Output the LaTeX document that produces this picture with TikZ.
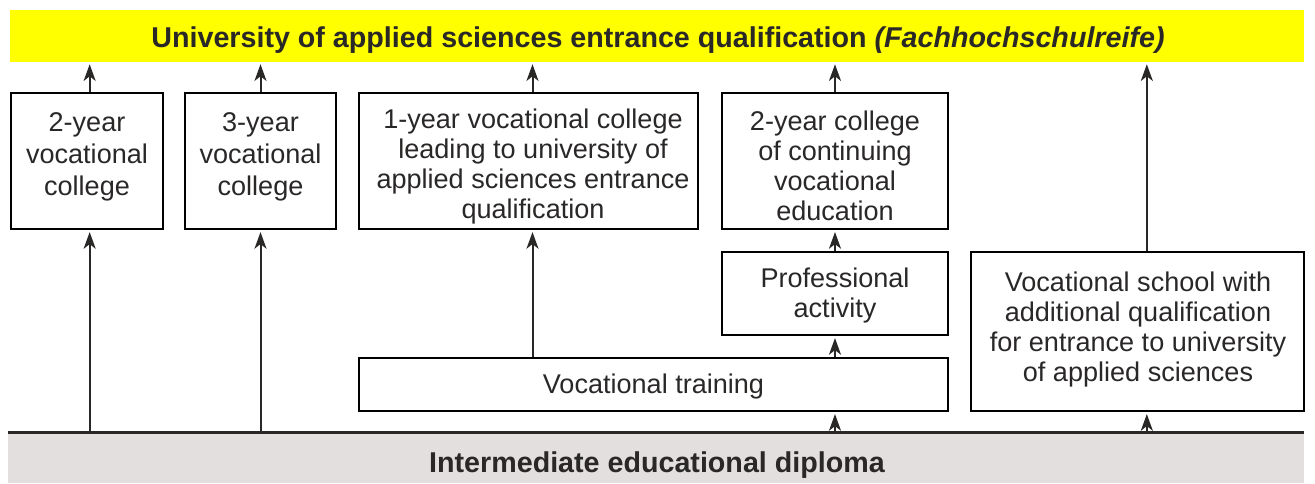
\documentclass[tikz,border=0pt]{standalone}
\usepackage{fontspec}
\setmainfont{Liberation Sans}
\usetikzlibrary{arrows.meta}
\definecolor{ink}{HTML}{2A2727}
\definecolor{barY}{HTML}{FFFF00}
\definecolor{barG}{HTML}{E3DFDF}
\tikzset{
  box/.style={draw=black, line width=1.6pt, inner sep=0pt},
  lbl/.style={align=center, text=ink, font=\fontsize{20.3}{22.5}\selectfont, inner sep=0pt},
  widelbl/.style={lbl, font=\fontsize{20.3}{24}\selectfont},
  arr/.style={draw=ink, line width=1.5pt, shorten >=1.5pt,
    -{Stealth[length=12.5pt,width=9pt,inset=3.5pt]}},
  band/.style={inner sep=0pt, text=ink, font=\fontsize{21.5}{24}\selectfont\bfseries},
}
\begin{document}
\begin{tikzpicture}[x=0.75pt,y=-0.75pt]
\useasboundingbox (0,0) rectangle (1315,483);
% target and starting bands
\node[band, fill=barY, minimum width=970.5pt, minimum height=39pt] (top) at (657,36) {};
\node[band] (toptext) at (658,40)
  {University of applied sciences entrance qualification \textit{(Fachhochschulreife)}};
\node[band, fill=barG, minimum width=972pt, minimum height=37.5pt] (dip) at (656,458) {};
\node[band] (diptext) at (657,465) {Intermediate educational diploma};
\draw[ink, line width=2pt] (dip.north west) -- (dip.north east);
% school boxes
\node[box, minimum width=114pt, minimum height=102pt] (a) at (87,161) {};
\node[widelbl] (alabel) at (87,157) {2-year\\vocational\\college};
\node[box, minimum width=113.25pt, minimum height=102pt] (b) at (260.5,161) {};
\node[widelbl] (blabel) at (260.5,157) {3-year\\vocational\\college};
\node[box, minimum width=254.25pt, minimum height=102pt] (c) at (528.5,161) {};
\node[lbl] (clabel) at (533,166)
  {1-year vocational college\\leading to university of\\applied sciences entrance\\qualification};
\node[box, minimum width=169.5pt, minimum height=102pt] (d) at (835,161) {};
\node[lbl] (dlabel) at (835,166) {2-year college\\of continuing\\vocational\\education};
\node[box, minimum width=169.5pt, minimum height=62.25pt] (e) at (835,293.5) {};
\node[lbl] (elabel) at (835,295) {Professional\\activity};
\node[box, minimum width=441.75pt, minimum height=39.75pt] (f) at (653.5,384.5) {};
\node[lbl] (flabel) at (653.5,386) {Vocational training};
\node[box, minimum width=249.75pt, minimum height=119.25pt] (g) at (1137.5,331.5) {};
\node[lbl] (glabel) at (1138,329)
  {Vocational school with\\additional qualification\\for entrance to university\\of applied sciences};
% routes
\draw[arr] ([xshift=2pt]dip.north -| a.south) -- ([xshift=2pt]a.south);
\draw[arr] (dip.north -| b.south) -- (b.south);
\draw[arr] ([xshift=2pt]a.north) -- ([xshift=2pt]top.south -| a.north);
\draw[arr] (b.north) -- (top.south -| b.north);
\draw[arr] ([xshift=3pt]f.north -| c.south) -- ([xshift=3pt]c.south);
\draw[arr] ([xshift=3pt]c.north) -- ([xshift=3pt]top.south -| c.north);
\draw[arr] (dip.north -| e.south) -- (f.south -| e.south);
\draw[arr] (f.north -| e.south) -- (e.south);
\draw[arr] (e.north) -- (d.south);
\draw[arr] (d.north) -- (top.south -| d.north);
\draw[arr] ([xshift=7pt]dip.north -| g.south) -- ([xshift=7pt]g.south);
\draw[arr] ([xshift=7pt]g.north) -- ([xshift=7pt]top.south -| g.north);
\end{tikzpicture}
\end{document}
